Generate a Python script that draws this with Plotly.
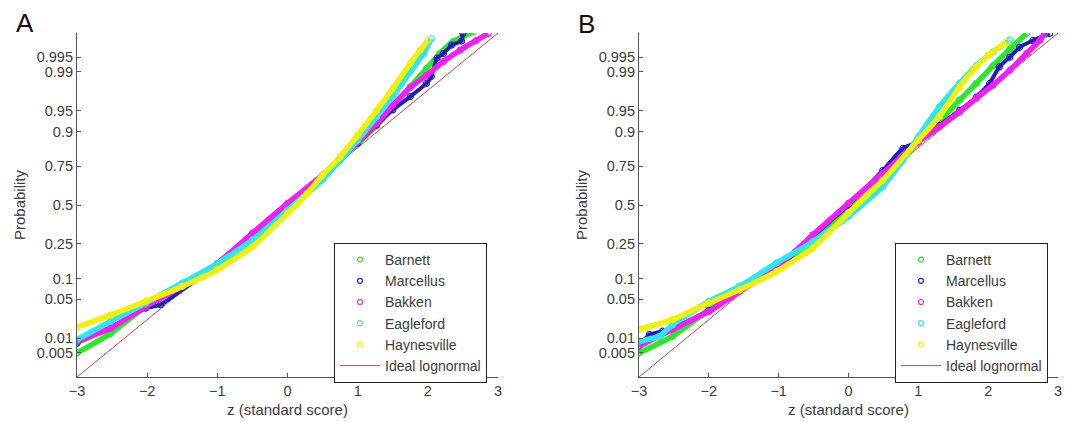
from statistics import NormalDist
import plotly.graph_objects as go

# Normal probability plots of standardized log-EUR for five shale plays.
# x: z (standard score); y: standard normal quantile of each plotting position.

# ---------------- Panel A ----------------
a_barnett_z = [-3.0, -2.52, -2.02, -1.5, -1.0, -0.5, 0.0, 0.5, 1.0, 1.27, 1.5, 1.75, 1.98, 2.17, 2.36, 2.65]
a_barnett_q = [-2.58, -2.24, -1.77, -1.39, -1.05, -0.58, -0.06, 0.49, 1.07, 1.39, 1.71, 2.06, 2.38, 2.64, 2.85, 3.02]

a_marcellus_z = [-3.0, -2.5, -2.02, -1.81, -1.0, -0.5, 0.0, 0.5, 1.0, 1.27, 1.5, 1.75, 1.98, 2.05, 2.13, 2.22, 2.34, 2.48, 2.5]
a_marcellus_q = [-2.41, -2.12, -1.8, -1.74, -1.04, -0.52, 0.0, 0.50, 1.08, 1.39, 1.66, 1.89, 2.12, 2.24, 2.56, 2.64, 2.79, 2.86, 2.99]

a_bakken_z = [-3.0, -2.52, -2.02, -1.5, -1.0, -0.5, 0.0, 0.5, 1.0, 1.27, 1.5, 1.75, 1.98, 2.22, 2.46, 2.69, 2.86]
a_bakken_q = [-2.38, -2.15, -1.77, -1.42, -1.02, -0.49, 0.03, 0.52, 1.10, 1.42, 1.74, 2.05, 2.26, 2.50, 2.70, 2.87, 2.99]

a_eagleford_z = [-3.0, -2.52, -2.02, -1.5, -1.0, -0.5, 0.0, 0.5, 0.75, 1.0, 1.27, 1.5, 1.75, 1.94, 2.05]
a_eagleford_q = [-2.35, -2.03, -1.71, -1.36, -1.02, -0.61, -0.09, 0.44, 0.78, 1.13, 1.54, 1.89, 2.32, 2.64, 2.90]

a_haynesville_z = [-3.0, -2.52, -2.02, -1.5, -1.0, -0.5, 0.0, 0.28, 0.5, 0.75, 1.0, 1.27, 1.5, 1.75, 1.89, 2.0]
a_haynesville_q = [-2.13, -1.92, -1.68, -1.42, -1.13, -0.73, -0.15, 0.2, 0.52, 0.84, 1.22, 1.65, 2.03, 2.47, 2.70, 2.87]

# ---------------- Panel B ----------------
b_barnett_z = [-3.0, -2.52, -2.0, -1.56, -1.03, -0.51, 0.0, 0.49, 1.0, 1.30, 1.59, 1.83, 2.07, 2.31, 2.55]
b_barnett_q = [-2.58, -2.29, -1.83, -1.48, -1.07, -0.64, -0.09, 0.41, 1.10, 1.45, 1.83, 2.12, 2.43, 2.72, 2.99]

b_marcellus_z = [-3.0, -2.85, -2.66, -2.42, -2.0, -1.56, -1.03, -0.51, 0.0, 0.49, 0.78, 1.0, 1.30, 1.59, 1.83, 2.02, 2.16, 2.31, 2.45, 2.64, 2.88]
b_marcellus_q = [-2.46, -2.26, -2.20, -2.09, -1.84, -1.50, -1.12, -0.55, 0.0, 0.60, 0.99, 1.10, 1.39, 1.65, 1.88, 2.12, 2.41, 2.58, 2.75, 2.87, 2.99]

b_bakken_z = [-3.0, -2.52, -2.0, -1.56, -1.03, -0.51, 0.0, 0.49, 1.0, 1.30, 1.59, 1.83, 2.07, 2.31, 2.55, 2.74, 2.81]
b_bakken_q = [-2.46, -2.17, -1.86, -1.51, -1.10, -0.52, 0.03, 0.55, 1.10, 1.36, 1.62, 1.86, 2.09, 2.35, 2.64, 2.87, 3.0]

b_eagleford_z = [-3.0, -2.71, -2.52, -2.0, -1.56, -1.03, -0.51, 0.0, 0.49, 0.78, 1.0, 1.30, 1.59, 1.83, 2.07, 2.31]
b_eagleford_q = [-2.38, -2.29, -2.09, -1.68, -1.42, -1.01, -0.64, -0.2, 0.32, 0.78, 1.19, 1.71, 2.12, 2.43, 2.67, 2.88]

b_haynesville_z = [-3.0, -2.52, -2.0, -1.56, -1.03, -0.51, 0.0, 0.49, 1.0, 1.30, 1.59, 1.83, 2.0, 2.26]
b_haynesville_q = [-2.17, -2.0, -1.71, -1.48, -1.16, -0.75, -0.14, 0.43, 1.13, 1.54, 2.06, 2.41, 2.61, 2.84]

# Reference line for a perfectly lognormal sample
ideal_z = [-3, 3]

plays = ["Barnett", "Marcellus", "Bakken", "Eagleford", "Haynesville"]
play_colors = ["#2fe62f", "#1f1fb0", "#f020f0", "#30e6ec", "#f0f010"]
band_widths = [5.5, 4.0, 5.5, 5.5, 5.5]

prob_ticks = [0.005, 0.01, 0.05, 0.1, 0.25, 0.5, 0.75, 0.9, 0.95, 0.99, 0.995]
prob_labels = ["0.005", "0.01", "0.05", "0.1", "0.25", "0.5", "0.75", "0.9", "0.95", "0.99", "0.995"]
z_ticks = [-3, -2, -1, 0, 1, 2, 3]

panel_a = [(a_barnett_z, a_barnett_q), (a_marcellus_z, a_marcellus_q), (a_bakken_z, a_bakken_q),
           (a_eagleford_z, a_eagleford_q), (a_haynesville_z, a_haynesville_q)]
panel_b = [(b_barnett_z, b_barnett_q), (b_marcellus_z, b_marcellus_q), (b_bakken_z, b_bakken_q),
           (b_eagleford_z, b_eagleford_q), (b_haynesville_z, b_haynesville_q)]

W, H = 1083, 422
FONT = "Liberation Sans, Arial, sans-serif"
AXIS_COLOR = "#555555"
TEXT_COLOR = "#3c3c3c"
IDEAL_COLOR = "#e23c3c"

fig = go.Figure()


def add_panel(series, xaxis, yaxis, legend):
    fig.add_trace(go.Scatter(x=ideal_z, y=ideal_z, mode="lines",
                             line=dict(color=IDEAL_COLOR, width=1),
                             xaxis=xaxis, yaxis=yaxis, showlegend=False, hoverinfo="skip"))
    for name, color, bw, (zs, qs) in zip(plays, play_colors, band_widths, series):
        fig.add_trace(go.Scatter(x=zs, y=qs, mode="lines+markers",
                                 line=dict(color=color, width=bw, shape="spline", smoothing=0.4),
                                 marker=dict(symbol="circle-open", size=6, color=color, line=dict(width=1.2)),
                                 xaxis=xaxis, yaxis=yaxis, showlegend=False, name=name))
    # legend entries: open circle markers and the ideal line
    for name, color in zip(plays, play_colors):
        fig.add_trace(go.Scatter(x=[None], y=[None], mode="markers", name=name,
                                 marker=dict(symbol="circle-open", size=5, color=color, line=dict(width=1.2)),
                                 xaxis=xaxis, yaxis=yaxis, legend=legend))
    fig.add_trace(go.Scatter(x=[None], y=[None], mode="lines", name="Ideal lognormal",
                             line=dict(color=IDEAL_COLOR, width=1),
                             xaxis=xaxis, yaxis=yaxis, legend=legend))


add_panel(panel_a, "x", "y", "legend")
add_panel(panel_b, "x2", "y2", "legend2")

y_tickvals = [NormalDist().inv_cdf(p) for p in prob_ticks]

axis_common = dict(showline=True, linecolor=AXIS_COLOR, linewidth=1.2, mirror=False,
                   showgrid=False, zeroline=False, ticks="inside", ticklen=4,
                   tickcolor=AXIS_COLOR, tickwidth=1,
                   tickfont=dict(family=FONT, size=14.5, color=TEXT_COLOR),
                   automargin=False)

title_font = dict(family=FONT, size=15, color=TEXT_COLOR)
y_dom = [45 / H, 1 - 33 / H]

legend_common = dict(xanchor="left", yanchor="top", bordercolor="#222222", borderwidth=1,
                     bgcolor="white", font=dict(family=FONT, size=14, color=TEXT_COLOR),
                     itemwidth=40, tracegroupgap=0)

fig.update_layout(
    width=W, height=H,
    margin=dict(l=0, r=0, t=0, b=0),
    paper_bgcolor="white", plot_bgcolor="white",
    font=dict(family=FONT, color=TEXT_COLOR),
    xaxis=dict(domain=[77 / W, 498 / W], range=[-3, 3], tickvals=z_ticks, anchor="y",
               title=dict(text="z (standard score)", font=title_font, standoff=6),
               **axis_common),
    yaxis=dict(domain=y_dom, range=[-3, 3], tickvals=y_tickvals, ticktext=prob_labels, anchor="x",
               title=dict(text="Probability", font=title_font, standoff=7),
               **axis_common),
    xaxis2=dict(domain=[639 / W, 1058 / W], range=[-3, 3], tickvals=z_ticks, anchor="y2",
                title=dict(text="z (standard score)", font=title_font, standoff=6),
                **axis_common),
    yaxis2=dict(domain=y_dom, range=[-3, 3], tickvals=y_tickvals, ticktext=prob_labels, anchor="x2",
                title=dict(text="Probability", font=title_font, standoff=7),
                **axis_common),
    legend=dict(x=334 / W, y=1 - 243 / H, **legend_common),
    legend2=dict(x=895 / W, y=1 - 243 / H, **legend_common),
    annotations=[
        dict(text="A", x=25 / W, y=1 - 23 / H, xref="paper", yref="paper", showarrow=False,
             xanchor="center", yanchor="middle",
             font=dict(family=FONT, size=26, color="#111111")),
        dict(text="B", x=586 / W, y=1 - 24 / H, xref="paper", yref="paper", showarrow=False,
             xanchor="center", yanchor="middle",
             font=dict(family=FONT, size=26, color="#111111")),
    ],
)

fig.write_html("out.html")
